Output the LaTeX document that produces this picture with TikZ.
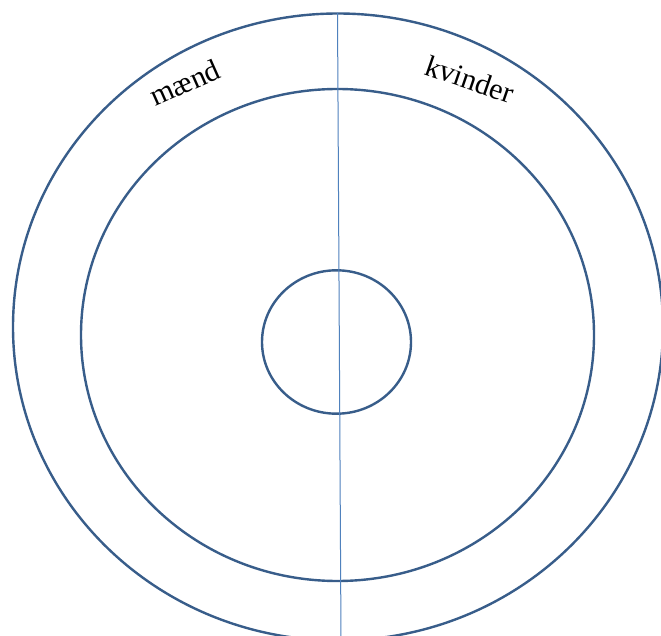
\documentclass[tikz,border=0pt]{standalone}
\usepackage{fontspec}
\setmainfont{Liberation Serif}
\definecolor{ringblue}{HTML}{385D8A}
\definecolor{lineblue}{HTML}{4F81BD}
\begin{document}
\begin{tikzpicture}[x=1pt,y=-1pt,
  ring/.style={draw=ringblue,line width=2.4pt},
  divider/.style={draw=lineblue,line width=1pt},
  label/.style={font=\fontsize{30}{34}\selectfont,anchor=base,inner sep=0pt}]
\useasboundingbox (0,0) rectangle (661,636);
\clip (0,0) rectangle (661,636);
\fill[white] (0,0) rectangle (661,636);
\draw[ring] (338,327) ellipse [x radius=325, y radius=313.5];
\draw[ring] (337.5,335) ellipse [x radius=256.5, y radius=246];
\draw[ring] (336.5,342) ellipse [x radius=74.5, y radius=71.7];
\coordinate (top) at (337.5,13);
\coordinate (bot) at (341,640);
\draw[divider] (top) -- (bot);
\node[label,rotate=24] (m) at (189,92) {mænd};
\node[label,rotate=-19] (k) at (466.5,89) {kvinder};
\end{tikzpicture}
\end{document}
